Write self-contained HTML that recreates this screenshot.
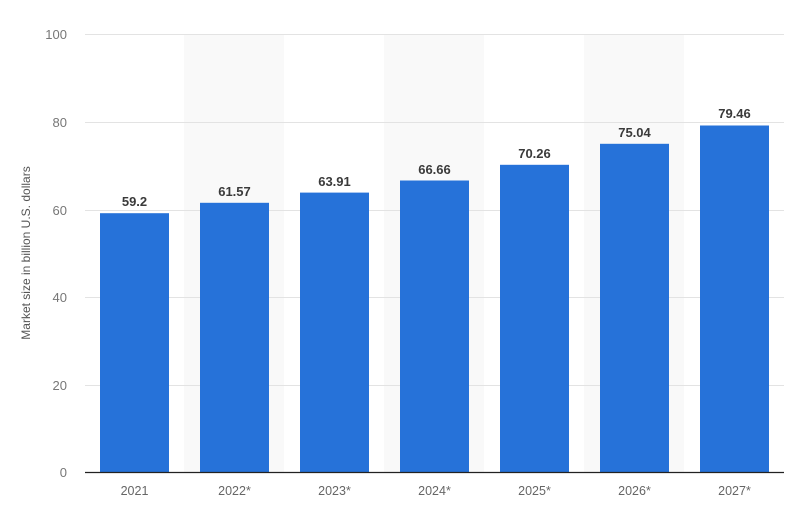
<!DOCTYPE html>
<html><head><meta charset="utf-8"><style>
html,body{margin:0;padding:0;background:#fff;}
svg{display:block;font-family:"Liberation Sans",sans-serif;}
</style></head><body>
<svg width="800" height="507" viewBox="0 0 800 507" xmlns="http://www.w3.org/2000/svg">
<rect width="800" height="507" fill="#fff"/>
<g fill="#f9f9f9">
<rect x="184" y="34" width="100" height="438"/>
<rect x="384" y="34" width="100" height="438"/>
<rect x="584" y="34" width="100" height="438"/>
</g>
<g stroke="#e3e3e3" stroke-width="1">
<line x1="85" y1="34.5" x2="784" y2="34.5"/>
<line x1="85" y1="122.5" x2="784" y2="122.5"/>
<line x1="85" y1="210.5" x2="784" y2="210.5"/>
<line x1="85" y1="297.5" x2="784" y2="297.5"/>
<line x1="85" y1="385.5" x2="784" y2="385.5"/>
</g>
<g fill="#777" font-size="13" text-anchor="end">
<text x="67" y="39">100</text>
<text x="67" y="127">80</text>
<text x="67" y="215">60</text>
<text x="67" y="302">40</text>
<text x="67" y="390">20</text>
<text x="67" y="477">0</text>
</g>
<text transform="translate(30,253) rotate(-90)" text-anchor="middle" font-size="12" fill="#555">Market size in billion U.S. dollars</text>
<g fill="#2672d9">
<rect x="100" y="213.2" width="69" height="259.3"/>
<rect x="200" y="202.8" width="69" height="269.7"/>
<rect x="300" y="192.6" width="69" height="279.9"/>
<rect x="400" y="180.5" width="69" height="292"/>
<rect x="500" y="164.8" width="69" height="307.7"/>
<rect x="600" y="143.8" width="69" height="328.7"/>
<rect x="700" y="125.5" width="69" height="347"/>
</g>
<line x1="85" y1="472.5" x2="784" y2="472.5" stroke="#222" stroke-width="1.3"/>
<g fill="#3a3a3a" font-size="13" font-weight="600" text-anchor="middle">
<text x="134.5" y="206">59.2</text>
<text x="234.5" y="196">61.57</text>
<text x="334.5" y="186">63.91</text>
<text x="434.5" y="174">66.66</text>
<text x="534.5" y="158">70.26</text>
<text x="634.5" y="137">75.04</text>
<text x="734.5" y="118">79.46</text>
</g>
<g fill="#666" font-size="12.5" text-anchor="middle">
<text x="134.5" y="495">2021</text>
<text x="234.5" y="495">2022*</text>
<text x="334.5" y="495">2023*</text>
<text x="434.5" y="495">2024*</text>
<text x="534.5" y="495">2025*</text>
<text x="634.5" y="495">2026*</text>
<text x="734.5" y="495">2027*</text>
</g>
</svg>
</body></html>
